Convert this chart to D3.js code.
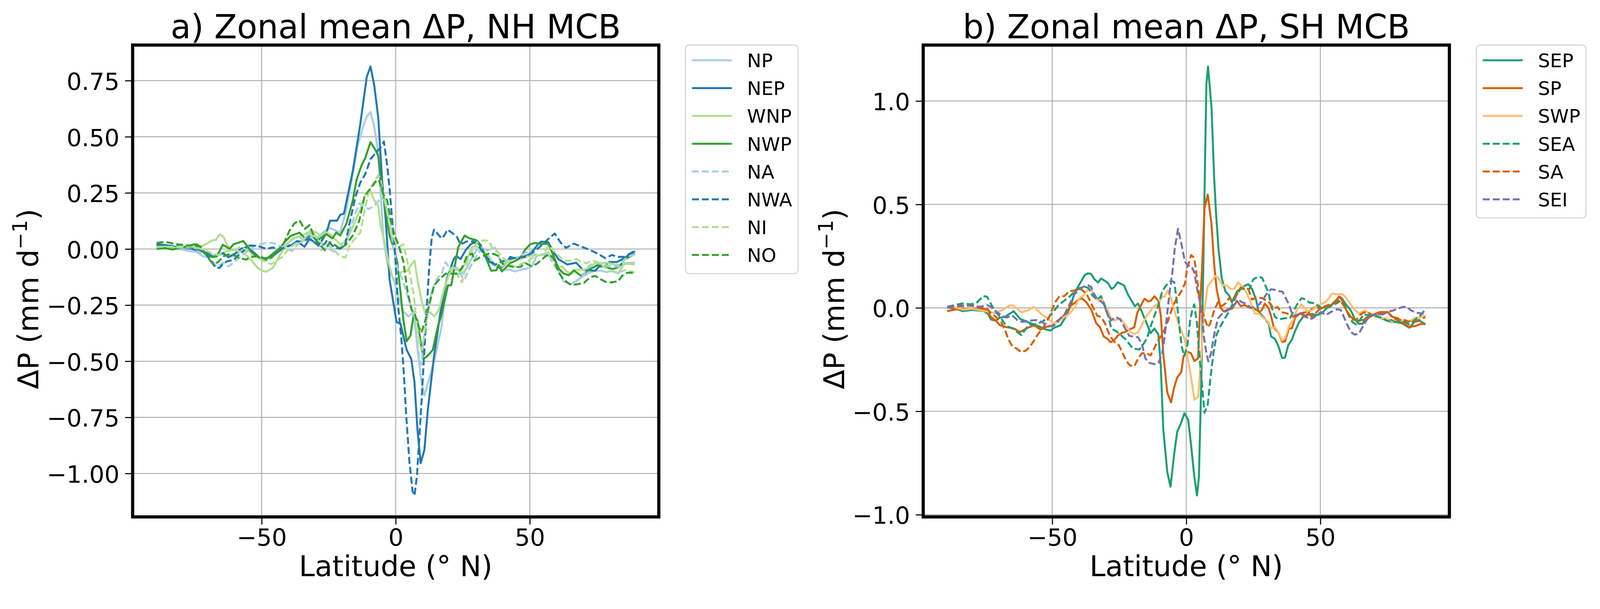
<!DOCTYPE html>
<html>
<head>
<meta charset="utf-8">
<script src="https://cdn.jsdelivr.net/npm/d3@7"></script>
<style>
  html, body { margin: 0; padding: 0; width: 100%; height: 100%; overflow: hidden; background: #ffffff; }
  #chart { display: block; width: 100vw; height: 100vh; }
  text { font-family: 'DejaVu Sans', sans-serif; fill: #000; }
</style>
</head>
<body>
<svg id="chart"></svg>
<script>
// ---- Data (latitude in degrees N, zonal mean dP in mm/day) ----
const latTicks = [-50, 0, 50];
const nhTicks = [-1.0, -0.75, -0.5, -0.25, 0, 0.25, 0.5, 0.75];
const shTicks = [-1.0, -0.5, 0, 0.5, 1.0];

const nhRegions = ['NP', 'NEP', 'WNP', 'NWP', 'NA', 'NWA', 'NI', 'NO'];
const shRegions = ['SEP', 'SP', 'SWP', 'SEA', 'SA', 'SEI'];

const NP = [[-89.2,0.010],[-86.1,0.008],[-81.3,0.001],[-76.6,-0.010],[-74.2,-0.013],[-71.9,-0.033],[-70.4,-0.036],[-68.5,-0.027],[-66.2,-0.022],[-64.3,-0.016],[-62.4,-0.038],[-60.0,-0.027],[-57.7,-0.010],[-55.3,-0.005],[-52.9,-0.021],[-50.6,-0.041],[-48.2,-0.047],[-45.8,-0.027],[-43.5,-0.005],[-41.1,0.018],[-38.7,0.041],[-36.3,0.058],[-34.0,0.035],[-31.6,0.075],[-29.2,0.049],[-26.9,0.075],[-24.5,0.093],[-20.7,0.073],[-18.4,0.178],[-16.0,0.335],[-14.1,0.466],[-12.0,0.551],[-10.8,0.590],[-9.4,0.610],[-8.0,0.545],[-6.5,0.427],[-5.6,0.243],[-4.6,0.047],[-3.2,-0.058],[-1.8,-0.110],[-0.4,-0.149],[1.0,-0.215],[2.9,-0.280],[4.8,-0.300],[6.7,-0.280],[8.4,-0.476],[9.6,-0.594],[10.7,-0.653],[12.4,-0.581],[14.3,-0.503],[17.1,-0.346],[19.0,-0.136],[20.9,-0.071],[22.8,-0.084],[24.7,-0.110],[26.6,-0.084],[29.0,-0.025],[30.4,-0.002],[32.3,-0.001],[34.2,-0.029],[36.1,-0.069],[38.0,-0.080],[40.3,-0.092],[42.2,-0.092],[44.6,-0.100],[46.5,-0.092],[48.4,-0.089],[50.8,-0.078],[52.6,-0.029],[54.5,-0.027],[56.9,-0.024],[58.8,-0.041],[60.7,-0.097],[62.6,-0.143],[65.0,-0.157],[67.3,-0.143],[69.7,-0.123],[72.1,-0.106],[74.4,-0.097],[76.8,-0.097],[78.7,-0.103],[80.6,-0.097],[83.0,-0.109],[85.3,-0.063],[87.7,-0.061],[89.2,-0.061]];

const NEP = [[-89.2,0.021],[-86.1,0.018],[-81.3,0.008],[-76.6,0.002],[-72.8,-0.010],[-70.4,-0.016],[-68.1,-0.036],[-66.2,-0.027],[-64.3,-0.019],[-62.4,-0.036],[-60.0,-0.021],[-57.7,0.001],[-55.3,0.010],[-52.9,-0.016],[-50.6,-0.041],[-48.2,-0.041],[-45.8,-0.030],[-43.5,-0.010],[-40.6,0.014],[-38.7,0.018],[-36.8,0.035],[-34.0,0.010],[-32.1,0.046],[-30.2,0.029],[-28.3,0.024],[-26.4,0.060],[-25.5,0.086],[-24.5,0.126],[-21.9,0.126],[-20.7,0.152],[-19.3,0.158],[-16.0,0.348],[-13.2,0.558],[-10.8,0.767],[-9.4,0.813],[-8.0,0.728],[-6.5,0.584],[-5.1,0.309],[-3.7,0.126],[-2.3,-0.136],[-0.85,-0.241],[0.33,-0.326],[1.75,-0.332],[4.1,-0.450],[5.8,-0.490],[7.0,-0.594],[8.1,-0.804],[9.3,-0.954],[10.7,-0.895],[11.9,-0.725],[14.3,-0.476],[16.7,-0.280],[19.0,-0.136],[21.6,-0.045],[22.6,-0.031],[24.2,-0.045],[26.1,-0.005],[28.0,0.021],[30.4,0.036],[31.8,0.016],[33.2,-0.024],[35.1,-0.058],[37.0,-0.069],[38.9,-0.086],[40.8,-0.069],[42.7,-0.035],[45.1,-0.044],[47.4,-0.035],[49.8,-0.024],[51.7,-0.001],[53.1,0.022],[54.3,0.033],[56.9,0.030],[58.8,-0.012],[60.7,-0.046],[64.0,-0.069],[67.3,-0.061],[69.7,-0.092],[72.1,-0.095],[74.4,-0.097],[75.8,-0.078],[77.7,-0.078],[79.6,-0.058],[82.5,-0.058],[84.8,-0.044],[86.7,-0.029],[89.2,-0.010]];

const WNP = [[-89.2,0.008],[-86.1,0.011],[-81.3,0.004],[-76.6,0.007],[-72.8,0.010],[-70.4,0.024],[-68.5,0.038],[-67.1,0.041],[-65.7,0.065],[-64.3,0.055],[-62.9,0.018],[-61.4,-0.005],[-59.6,-0.007],[-56.7,-0.016],[-53.9,-0.050],[-51.5,-0.084],[-49.6,-0.098],[-48.2,-0.101],[-45.8,-0.084],[-43.5,-0.033],[-41.1,0.012],[-38.7,0.046],[-36.3,0.055],[-34.0,0.066],[-31.6,0.083],[-29.2,0.072],[-27.8,0.052],[-25.9,0.075],[-24.0,0.062],[-20.7,0.021],[-18.4,0.034],[-16.0,0.100],[-13.6,0.165],[-11.3,0.243],[-9.4,0.257],[-8.0,0.217],[-6.5,0.191],[-5.6,0.100],[-4.2,0.034],[-2.7,-0.058],[-1.3,-0.123],[0.1,-0.143],[2.0,-0.103],[4.4,-0.097],[5.3,-0.077],[7.0,-0.051],[8.1,-0.136],[9.6,-0.228],[11.0,-0.287],[12.4,-0.280],[14.5,-0.300],[16.2,-0.267],[18.1,-0.175],[20.0,-0.110],[21.9,-0.084],[24.2,-0.103],[26.6,-0.045],[28.5,0.010],[30.4,0.010],[32.3,-0.012],[34.2,-0.024],[36.1,-0.058],[38.0,-0.080],[39.9,-0.075],[41.8,-0.058],[44.1,-0.041],[46.5,-0.046],[48.4,-0.035],[50.8,-0.029],[53.1,-0.029],[55.0,-0.024],[56.9,-0.015],[58.8,-0.046],[60.7,-0.080],[62.1,-0.078],[63.5,-0.097],[65.4,-0.114],[67.3,-0.092],[70.2,-0.092],[72.1,-0.083],[74.0,-0.066],[75.8,-0.063],[78.7,-0.061],[81.5,-0.069],[83.9,-0.072],[86.3,-0.066],[89.2,-0.069]];

const NWP = [[-89.2,0.000],[-86.1,0.004],[-83.2,-0.002],[-79.0,0.008],[-75.2,0.021],[-72.8,-0.002],[-70.9,-0.024],[-68.5,-0.036],[-66.7,-0.033],[-64.5,0.019],[-61.9,0.001],[-60.5,0.021],[-58.1,0.030],[-56.9,0.036],[-55.3,0.012],[-53.4,-0.021],[-50.6,-0.041],[-48.2,-0.044],[-45.8,-0.021],[-43.5,0.001],[-41.1,0.035],[-39.2,0.058],[-35.9,0.073],[-34.0,0.049],[-31.6,0.058],[-29.2,0.038],[-25.9,0.066],[-23.6,0.047],[-22.2,0.073],[-20.7,0.060],[-18.4,0.113],[-16.0,0.217],[-14.6,0.309],[-12.7,0.374],[-11.3,0.407],[-9.4,0.476],[-7.5,0.440],[-6.5,0.414],[-5.6,0.309],[-4.2,0.204],[-2.3,0.060],[-0.85,0.008],[0.6,-0.058],[1.5,-0.162],[2.9,-0.319],[4.1,-0.411],[5.5,-0.385],[6.7,-0.293],[8.1,-0.319],[9.1,-0.398],[10.3,-0.490],[11.9,-0.476],[13.8,-0.450],[15.7,-0.346],[17.1,-0.293],[19.5,-0.162],[20.7,-0.162],[21.9,-0.084],[23.3,0.008],[25.7,0.060],[27.6,0.047],[29.9,0.040],[32.3,-0.001],[33.7,-0.041],[35.6,-0.097],[37.5,-0.095],[38.4,-0.072],[39.6,-0.100],[41.3,-0.080],[42.7,-0.063],[45.1,-0.050],[46.5,-0.038],[48.4,-0.001],[50.3,0.022],[52.2,0.027],[54.1,0.022],[56.9,0.024],[58.8,-0.029],[60.7,-0.086],[62.6,-0.109],[64.5,-0.117],[66.4,-0.095],[69.2,-0.120],[72.1,-0.092],[74.0,-0.080],[75.8,-0.069],[78.7,-0.083],[81.1,-0.089],[83.4,-0.080],[85.3,-0.046],[87.2,-0.035],[89.2,-0.021]];

const NA = [[-89.2,0.015],[-81.3,0.007],[-75.2,0.007],[-72.8,-0.016],[-70.9,-0.027],[-68.5,-0.055],[-66.7,-0.078],[-64.3,-0.061],[-62.4,-0.078],[-60.5,-0.061],[-57.7,-0.033],[-55.3,-0.010],[-52.9,0.012],[-50.6,0.021],[-48.2,0.027],[-45.8,0.027],[-43.5,0.015],[-41.1,0.004],[-38.7,-0.010],[-36.3,0.024],[-34.0,0.046],[-32.1,0.072],[-30.2,0.029],[-27.8,-0.005],[-25.5,0.005],[-23.1,-0.012],[-20.7,0.008],[-18.4,0.047],[-16.0,0.126],[-13.6,0.204],[-11.7,0.191],[-10.3,0.178],[-8.9,0.185],[-7.0,0.204],[-5.6,0.230],[-4.2,0.217],[-2.3,0.126],[-0.85,0.008],[0.6,-0.084],[2.5,-0.136],[3.9,-0.189],[5.3,-0.241],[6.7,-0.280],[7.7,-0.372],[8.6,-0.476],[9.6,-0.516],[10.5,-0.398],[11.9,-0.293],[13.4,-0.189],[15.2,-0.136],[17.1,-0.110],[18.6,-0.058],[20.0,-0.084],[21.9,-0.084],[23.8,-0.110],[25.7,-0.136],[27.6,-0.084],[29.5,-0.045],[32.3,0.010],[34.2,-0.007],[37.0,0.007],[39.4,-0.063],[41.8,-0.052],[44.6,-0.041],[47.4,-0.024],[49.3,-0.012],[52.2,-0.024],[55.0,-0.024],[56.9,-0.024],[58.8,-0.069],[60.7,-0.097],[62.6,-0.137],[65.0,-0.157],[67.3,-0.143],[69.7,-0.120],[72.1,-0.075],[74.4,-0.058],[76.8,-0.069],[79.6,-0.075],[81.5,-0.075],[83.4,-0.080],[85.3,-0.046],[87.7,-0.029],[89.2,-0.024]];

const NWA = [[-89.2,0.018],[-76.6,0.010],[-72.8,-0.005],[-70.9,-0.021],[-68.1,-0.067],[-67.1,-0.084],[-65.7,-0.084],[-64.3,-0.064],[-62.4,-0.053],[-60.5,-0.050],[-58.6,-0.027],[-56.7,-0.007],[-54.8,0.015],[-52.9,0.015],[-50.6,0.010],[-48.2,0.001],[-45.8,0.007],[-43.5,-0.002],[-41.1,0.007],[-38.7,0.018],[-36.8,0.035],[-34.9,0.032],[-32.6,0.046],[-30.2,0.029],[-28.3,0.012],[-26.4,0.024],[-25.5,0.041],[-23.1,0.008],[-20.7,0.001],[-18.8,0.021],[-17.0,0.126],[-15.1,0.230],[-13.2,0.296],[-11.3,0.335],[-9.4,0.401],[-7.5,0.427],[-5.6,0.453],[-4.4,0.479],[-3.2,0.374],[-2.3,0.270],[-1.3,0.126],[-0.4,0.008],[0.3,-0.136],[1.0,-0.267],[2.0,-0.385],[2.9,-0.529],[3.9,-0.738],[5.1,-0.948],[6.3,-1.079],[7.0,-1.098],[7.9,-1.013],[8.6,-0.882],[9.6,-0.686],[10.5,-0.490],[11.5,-0.280],[12.4,-0.097],[13.4,0.047],[14.3,0.086],[15.7,0.067],[17.1,0.047],[18.1,0.060],[19.3,0.086],[20.9,0.073],[22.8,0.054],[24.2,0.021],[26.6,0.034],[29.0,0.034],[31.3,0.008],[33.2,-0.030],[37.0,-0.070],[40.8,-0.050],[44.1,-0.040],[48.4,-0.035],[52.2,-0.007],[55.0,0.024],[57.9,0.055],[59.3,0.069],[61.6,0.027],[63.5,0.005],[66.4,0.024],[68.7,0.013],[71.1,0.002],[73.5,-0.010],[75.8,-0.024],[78.2,-0.041],[80.6,-0.027],[83.0,-0.035],[85.3,-0.035],[87.7,-0.018],[89.2,-0.007]];

const NI = [[-89.2,0.010],[-81.3,0.010],[-76.6,0.012],[-72.8,0.001],[-70.9,-0.007],[-68.1,-0.021],[-66.2,-0.027],[-63.3,-0.010],[-60.5,-0.005],[-57.7,0.010],[-55.8,-0.002],[-52.9,-0.033],[-50.6,-0.044],[-48.2,-0.061],[-46.3,-0.067],[-44.4,-0.050],[-42.5,-0.038],[-40.6,-0.010],[-38.7,0.012],[-37.3,0.024],[-34.9,0.032],[-32.6,0.075],[-31.1,0.086],[-29.2,0.041],[-27.3,0.024],[-25.5,0.020],[-23.1,-0.005],[-20.7,-0.031],[-18.8,-0.038],[-17.0,0.021],[-15.1,0.047],[-13.2,0.073],[-11.7,0.165],[-10.3,0.243],[-8.9,0.283],[-7.5,0.309],[-6.5,0.329],[-5.6,0.309],[-4.6,0.243],[-3.2,0.165],[-1.8,0.073],[-0.4,0.041],[1.0,0.008],[2.9,0.021],[3.9,-0.031],[5.3,-0.110],[6.7,-0.202],[7.7,-0.319],[8.6,-0.398],[9.6,-0.450],[10.5,-0.398],[11.5,-0.293],[12.4,-0.241],[14.3,-0.162],[16.2,-0.136],[18.6,-0.110],[20.9,-0.084],[22.8,-0.110],[24.7,-0.149],[26.6,-0.058],[29.0,0.005],[30.4,0.030],[32.8,0.039],[34.7,0.036],[36.1,0.004],[38.0,-0.012],[39.9,-0.038],[41.8,-0.058],[44.1,-0.080],[46.5,-0.069],[48.4,-0.058],[50.8,-0.041],[53.1,-0.029],[55.0,-0.024],[56.9,0.016],[58.8,-0.007],[60.7,-0.029],[62.6,-0.052],[65.0,-0.052],[67.3,-0.044],[69.2,-0.058],[71.1,-0.063],[73.5,-0.052],[75.8,-0.061],[77.7,-0.080],[80.6,-0.100],[83.0,-0.105],[85.3,-0.095],[87.7,-0.100],[89.2,-0.105]];

const NO = [[-89.2,0.027],[-86.1,0.032],[-81.3,0.021],[-76.6,0.015],[-74.7,0.024],[-72.8,0.010],[-70.9,-0.021],[-69.0,-0.055],[-67.6,-0.067],[-66.2,-0.058],[-64.3,-0.033],[-62.4,-0.024],[-60.5,-0.027],[-58.1,-0.041],[-55.8,-0.047],[-53.9,-0.036],[-51.5,-0.030],[-49.6,-0.038],[-48.2,-0.050],[-46.3,-0.038],[-43.9,-0.010],[-41.6,0.029],[-39.7,0.080],[-37.8,0.114],[-35.9,0.128],[-34.0,0.089],[-32.1,0.106],[-30.2,0.046],[-28.3,0.018],[-26.4,-0.005],[-24.5,0.030],[-23.1,0.021],[-20.7,0.001],[-18.4,0.021],[-16.0,0.060],[-13.6,0.126],[-11.7,0.230],[-10.3,0.257],[-8.9,0.276],[-7.0,0.309],[-6.1,0.302],[-4.6,0.243],[-3.2,0.217],[-1.8,0.126],[-0.4,0.060],[1.0,0.021],[2.9,-0.058],[4.4,-0.189],[5.8,-0.267],[7.2,-0.293],[8.6,-0.346],[9.6,-0.372],[11.0,-0.319],[12.4,-0.254],[14.3,-0.162],[16.2,-0.136],[18.6,-0.110],[20.9,-0.110],[22.8,-0.110],[24.7,-0.084],[26.6,-0.031],[28.5,-0.020],[29.4,-0.052],[31.3,-0.038],[33.2,-0.029],[35.1,-0.018],[37.0,-0.024],[38.0,-0.029],[39.9,-0.066],[41.8,-0.075],[44.1,-0.080],[46.5,-0.080],[48.4,-0.063],[50.3,-0.075],[52.2,-0.069],[54.1,-0.052],[55.9,-0.032],[57.4,-0.024],[58.8,-0.041],[60.7,-0.103],[62.6,-0.137],[65.4,-0.160],[67.8,-0.157],[70.2,-0.151],[72.5,-0.126],[74.4,-0.120],[76.3,-0.134],[78.2,-0.146],[80.6,-0.149],[83.0,-0.143],[84.4,-0.120],[86.3,-0.106],[89.2,-0.106]];

const SEP = [[-89.2,0.002],[-86.1,-0.004],[-83.3,-0.016],[-80.0,-0.010],[-75.3,-0.016],[-73.8,-0.032],[-72.9,-0.056],[-71.0,-0.062],[-69.6,-0.047],[-67.7,-0.044],[-64.4,-0.016],[-62.0,-0.053],[-58.7,-0.071],[-55.9,-0.084],[-53.0,-0.102],[-50.7,-0.110],[-49.2,-0.096],[-46.9,-0.084],[-45.0,-0.044],[-43.1,0.011],[-41.7,0.072],[-39.8,0.115],[-37.9,0.158],[-36.7,0.167],[-35.5,0.164],[-34.1,0.136],[-32.9,0.123],[-31.8,0.142],[-30.3,0.130],[-29.2,0.120],[-27.9,0.092],[-27.0,0.099],[-25.6,0.124],[-23.2,0.108],[-21.8,0.066],[-20.4,0.034],[-19.2,0.008],[-18.0,0.021],[-16.6,-0.018],[-14.7,-0.077],[-13.3,-0.122],[-11.9,-0.100],[-10.4,-0.129],[-9.5,-0.285],[-8.6,-0.584],[-7.1,-0.793],[-5.9,-0.865],[-4.5,-0.704],[-3.4,-0.600],[-1.9,-0.555],[-0.7,-0.509],[0.7,-0.541],[1.8,-0.665],[3.0,-0.818],[4.0,-0.907],[4.7,-0.818],[5.6,-0.350],[6.3,0.171],[7.0,0.718],[7.5,1.083],[8.1,1.167],[9.4,0.971],[10.4,0.625],[11.1,0.456],[12.0,0.287],[13.2,0.145],[14.6,0.079],[16.0,0.060],[17.0,0.027],[18.9,0.079],[20.8,0.099],[23.1,0.115],[24.5,0.092],[26.0,0.040],[26.9,-0.014],[28.3,-0.038],[29.7,-0.059],[30.7,-0.074],[31.6,-0.138],[33.1,-0.150],[34.5,-0.190],[35.7,-0.242],[36.8,-0.241],[38.0,-0.181],[39.4,-0.153],[40.6,-0.111],[42.0,-0.071],[43.5,-0.044],[44.9,-0.035],[46.8,-0.029],[48.7,-0.035],[50.5,-0.026],[52.4,-0.001],[54.3,0.017],[56.2,0.041],[57.2,0.054],[58.1,0.045],[59.5,0.017],[61.4,-0.013],[62.8,-0.053],[64.3,-0.077],[65.7,-0.077],[67.1,-0.047],[69.5,-0.035],[71.8,-0.047],[74.7,-0.059],[76.5,-0.059],[78.0,-0.068],[80.3,-0.074],[83.2,-0.096],[85.1,-0.068],[87.0,-0.062],[89.2,-0.080]];

const SP = [[-89.2,-0.016],[-85.7,-0.007],[-82.3,-0.007],[-78.6,-0.004],[-75.3,-0.007],[-74.3,-0.010],[-72.9,-0.044],[-71.0,-0.062],[-69.6,-0.083],[-67.2,-0.093],[-64.4,-0.099],[-62.0,-0.117],[-59.6,-0.099],[-56.8,-0.084],[-54.4,-0.105],[-52.6,-0.093],[-50.2,-0.087],[-48.3,-0.065],[-46.4,-0.047],[-44.5,-0.019],[-43.1,0.011],[-41.7,0.023],[-40.3,0.038],[-39.1,0.047],[-37.4,0.029],[-35.5,-0.007],[-33.6,-0.074],[-32.2,-0.093],[-30.8,-0.138],[-29.4,-0.150],[-28.2,-0.166],[-27.0,-0.158],[-25.6,-0.135],[-24.2,-0.122],[-22.7,-0.116],[-21.3,-0.105],[-19.4,-0.094],[-18.3,-0.025],[-17.1,0.008],[-15.6,0.044],[-14.2,0.031],[-13.3,0.034],[-11.9,0.056],[-10.4,0.034],[-9.5,-0.038],[-8.6,-0.220],[-7.1,-0.409],[-5.7,-0.457],[-4.5,-0.383],[-3.4,-0.337],[-1.9,-0.311],[-1.0,-0.233],[0.0,-0.210],[1.8,-0.220],[3.0,-0.257],[4.4,-0.244],[5.2,0.027],[5.9,0.197],[6.8,0.483],[8.0,0.548],[9.4,0.405],[10.4,0.210],[11.3,0.092],[12.7,0.001],[14.1,-0.018],[15.6,-0.005],[17.0,-0.005],[18.9,0.034],[20.3,0.008],[21.7,0.014],[23.6,0.001],[25.5,-0.005],[27.4,-0.020],[28.3,-0.007],[29.3,0.020],[30.7,-0.001],[31.6,-0.038],[32.6,-0.093],[33.5,-0.108],[34.5,-0.123],[35.7,-0.163],[36.8,-0.163],[38.3,-0.099],[39.4,-0.099],[40.6,-0.047],[42.5,-0.026],[44.4,-0.044],[46.3,-0.011],[48.2,0.005],[50.1,-0.004],[52.0,0.005],[54.3,0.014],[55.7,0.032],[57.0,0.055],[58.1,0.038],[59.5,-0.007],[61.4,-0.044],[62.8,-0.059],[64.3,-0.062],[66.6,-0.056],[68.5,-0.044],[70.4,-0.029],[72.3,-0.020],[75.1,-0.020],[77.0,-0.044],[78.9,-0.050],[80.8,-0.074],[83.2,-0.093],[85.5,-0.087],[87.4,-0.078],[89.2,-0.078]];

const SWP = [[-89.2,0.005],[-87.1,0.006],[-83.3,-0.009],[-80.0,-0.004],[-76.2,-0.013],[-72.9,-0.020],[-71.0,-0.026],[-68.2,-0.007],[-65.8,0.012],[-64.4,0.011],[-61.5,-0.022],[-58.7,-0.010],[-56.8,0.005],[-54.4,-0.026],[-51.6,-0.053],[-49.7,-0.074],[-47.8,-0.068],[-45.9,-0.047],[-43.6,-0.029],[-41.7,0.002],[-39.8,0.047],[-37.9,0.066],[-36.0,0.102],[-34.6,0.066],[-32.7,0.032],[-31.3,0.041],[-29.9,0.005],[-28.2,-0.045],[-27.0,-0.061],[-24.6,-0.051],[-22.3,-0.090],[-20.9,-0.116],[-19.4,-0.126],[-18.0,-0.118],[-16.6,-0.083],[-14.7,-0.038],[-12.8,-0.005],[-11.9,0.008],[-10.4,0.021],[-9.0,0.056],[-8.1,0.053],[-6.9,0.085],[-5.7,0.047],[-4.3,-0.018],[-2.9,-0.077],[-1.5,-0.122],[-0.5,-0.155],[0.4,-0.233],[1.8,-0.337],[3.0,-0.444],[4.4,-0.431],[5.4,-0.259],[6.6,-0.025],[8.0,0.105],[9.4,0.128],[10.8,0.154],[12.0,0.144],[13.4,0.111],[15.1,0.108],[16.5,0.092],[17.9,0.092],[19.3,0.124],[20.8,0.105],[22.2,0.079],[23.6,0.040],[25.5,-0.027],[27.1,-0.029],[28.8,-0.050],[30.5,-0.065],[31.6,-0.099],[33.1,-0.093],[34.5,-0.123],[35.7,-0.156],[36.8,-0.147],[38.3,-0.087],[39.7,-0.062],[41.1,-0.013],[43.0,0.017],[44.9,-0.013],[46.8,-0.013],[48.7,0.008],[50.5,0.020],[52.0,0.029],[53.2,0.047],[54.3,0.069],[55.8,0.066],[58.1,0.067],[59.5,0.050],[61.0,0.023],[62.4,-0.004],[64.3,-0.026],[66.6,-0.012],[68.5,-0.029],[70.4,-0.041],[72.8,-0.050],[74.7,-0.050],[76.6,-0.071],[79.0,-0.062],[80.8,-0.059],[82.7,-0.071],[85.1,-0.050],[87.4,-0.044],[89.2,-0.037]];

const SEA = [[-89.2,0.005],[-86.1,0.014],[-83.3,0.022],[-80.4,0.017],[-78.1,0.026],[-75.7,0.057],[-74.3,0.054],[-72.4,0.008],[-71.0,-0.020],[-69.1,-0.050],[-67.2,-0.087],[-64.8,-0.099],[-61.5,-0.132],[-58.7,-0.080],[-55.9,-0.078],[-54.0,-0.068],[-51.6,-0.050],[-49.7,-0.020],[-47.8,0.011],[-45.5,0.035],[-43.6,0.054],[-41.7,0.078],[-39.8,0.096],[-37.9,0.102],[-36.5,0.096],[-35.1,0.062],[-33.2,0.038],[-31.8,0.057],[-30.3,0.005],[-29.0,-0.044],[-28.0,-0.100],[-26.1,-0.113],[-24.6,-0.129],[-22.7,-0.152],[-21.3,-0.174],[-19.9,-0.197],[-17.5,-0.201],[-16.6,-0.187],[-14.7,-0.148],[-13.3,-0.090],[-11.9,-0.038],[-10.4,0.014],[-9.0,0.079],[-7.6,0.108],[-5.7,0.131],[-4.5,0.125],[-3.6,0.040],[-2.6,-0.090],[-1.7,-0.188],[-0.7,-0.233],[0.4,-0.181],[1.4,-0.064],[2.3,-0.005],[3.0,0.017],[4.0,-0.077],[4.9,-0.233],[5.9,-0.376],[6.8,-0.507],[8.0,-0.468],[8.9,-0.350],[10.1,-0.221],[11.3,-0.129],[12.7,-0.090],[14.1,-0.057],[15.6,-0.025],[17.4,0.021],[18.9,0.066],[20.3,0.092],[22.2,0.092],[23.6,0.092],[25.0,0.138],[26.9,0.151],[28.3,0.145],[29.7,0.102],[30.7,0.072],[31.6,0.011],[33.1,-0.044],[34.5,-0.056],[36.8,-0.050],[38.7,-0.050],[40.1,-0.013],[41.6,0.023],[43.0,0.047],[44.4,0.041],[45.8,0.026],[47.7,0.023],[49.1,0.011],[50.5,-0.001],[52.4,-0.001],[54.3,0.011],[56.2,0.023],[57.6,0.035],[59.1,0.011],[60.5,-0.035],[61.9,-0.068],[63.3,-0.080],[64.7,-0.059],[66.1,-0.032],[68.0,-0.035],[70.4,-0.038],[72.8,-0.047],[74.7,-0.062],[77.0,-0.068],[78.9,-0.068],[80.8,-0.065],[83.2,-0.080],[85.1,-0.059],[87.4,-0.035],[89.2,-0.007]];

const SA = [[-89.2,0.002],[-86.1,0.008],[-82.3,0.008],[-79.5,0.014],[-76.2,-0.001],[-74.3,-0.004],[-72.9,-0.026],[-71.0,-0.044],[-69.1,-0.068],[-67.7,-0.105],[-66.3,-0.154],[-64.8,-0.187],[-63.4,-0.196],[-61.5,-0.214],[-59.6,-0.205],[-57.8,-0.178],[-55.4,-0.129],[-53.0,-0.087],[-51.1,-0.044],[-50.2,-0.013],[-48.8,0.029],[-47.4,0.054],[-45.5,0.057],[-43.6,0.081],[-41.7,0.084],[-39.8,0.096],[-38.4,0.081],[-37.0,0.063],[-35.1,0.011],[-33.2,-0.038],[-31.8,-0.044],[-30.3,-0.075],[-29.0,-0.120],[-28.0,-0.145],[-26.5,-0.168],[-25.1,-0.181],[-23.7,-0.220],[-22.3,-0.259],[-20.9,-0.279],[-19.4,-0.283],[-18.0,-0.246],[-16.6,-0.220],[-15.2,-0.217],[-13.3,-0.230],[-11.9,-0.194],[-10.4,-0.155],[-9.0,-0.129],[-7.6,-0.090],[-6.7,-0.057],[-5.2,0.001],[-3.8,0.040],[-1.9,0.079],[-0.5,0.118],[0.4,0.197],[1.8,0.255],[3.0,0.242],[4.2,0.118],[5.2,0.014],[6.1,-0.025],[7.0,-0.057],[8.0,-0.094],[8.9,-0.077],[10.4,-0.012],[11.8,0.027],[13.2,0.008],[14.6,0.021],[16.0,0.047],[17.4,0.034],[18.9,0.066],[20.3,0.099],[21.7,0.092],[23.1,0.092],[24.5,0.040],[26.0,0.050],[27.9,0.048],[29.7,0.038],[31.2,0.023],[32.6,-0.004],[34.0,0.005],[35.4,-0.020],[37.3,-0.026],[38.7,-0.032],[40.1,-0.044],[41.6,-0.032],[43.5,-0.023],[45.3,-0.020],[46.8,-0.044],[48.2,-0.026],[50.1,-0.001],[52.4,0.011],[54.8,0.023],[56.7,0.035],[58.1,0.023],[59.1,0.005],[60.5,-0.032],[61.9,-0.056],[63.3,-0.059],[64.7,-0.035],[66.1,-0.023],[67.6,-0.020],[69.0,-0.032],[70.9,-0.035],[72.8,-0.026],[75.1,-0.020],[77.0,-0.050],[78.9,-0.059],[80.8,-0.056],[82.7,-0.065],[85.1,-0.065],[87.4,-0.056],[89.2,-0.044]];

const SEI = [[-89.2,0.005],[-86.1,0.011],[-83.3,0.011],[-80.4,0.010],[-77.6,0.006],[-76.2,0.007],[-74.3,0.014],[-72.9,0.005],[-71.0,-0.016],[-69.1,-0.035],[-67.2,-0.047],[-64.8,-0.038],[-63.0,-0.059],[-61.1,-0.068],[-58.7,-0.062],[-55.9,-0.059],[-54.0,-0.068],[-52.1,-0.081],[-50.2,-0.090],[-48.8,-0.081],[-47.4,-0.056],[-45.5,-0.035],[-44.5,-0.007],[-43.1,0.029],[-41.7,0.066],[-40.3,0.084],[-38.4,0.102],[-36.7,0.110],[-35.5,0.102],[-34.6,0.072],[-33.6,0.050],[-32.2,0.035],[-30.8,0.019],[-29.4,-0.030],[-28.0,-0.060],[-26.1,-0.044],[-24.6,-0.057],[-23.2,-0.090],[-21.3,-0.135],[-19.4,-0.139],[-18.0,-0.142],[-16.6,-0.174],[-15.2,-0.246],[-13.8,-0.266],[-11.9,-0.272],[-10.4,-0.268],[-9.0,-0.220],[-8.1,-0.142],[-7.1,-0.025],[-6.2,0.079],[-5.2,0.171],[-4.3,0.288],[-3.1,0.382],[-1.9,0.314],[-0.5,0.223],[0.7,0.204],[1.8,0.204],[3.0,0.171],[4.2,0.079],[5.6,0.001],[6.6,-0.142],[7.5,-0.220],[8.2,-0.259],[9.2,-0.220],[10.4,-0.129],[11.8,-0.051],[13.2,-0.031],[14.6,-0.018],[16.5,-0.005],[17.9,0.014],[19.3,0.040],[20.8,0.027],[22.2,0.021],[24.1,0.001],[26.0,0.005],[27.4,0.020],[28.8,0.045],[30.2,0.072],[31.6,0.090],[33.1,0.087],[34.5,0.081],[35.9,0.078],[37.3,0.041],[38.3,0.017],[39.2,-0.020],[40.2,-0.038],[41.6,-0.032],[43.0,-0.026],[44.4,-0.038],[45.8,-0.056],[47.2,-0.050],[49.1,-0.029],[50.5,-0.020],[52.0,-0.035],[53.9,-0.020],[56.2,-0.007],[57.6,-0.010],[58.6,-0.038],[60.0,-0.081],[61.4,-0.117],[62.8,-0.129],[64.3,-0.126],[65.7,-0.093],[67.1,-0.062],[68.5,-0.038],[70.9,-0.032],[73.2,-0.032],[75.1,-0.020],[77.0,-0.013],[78.9,-0.004],[80.8,0.005],[82.2,0.005],[83.6,-0.010],[85.5,-0.023],[87.4,-0.026],[89.2,-0.029]];

// ---- Styles ----
const lineColor = {
  NP: '#a6cee3', NEP: '#1f78b4', WNP: '#b2df8a', NWP: '#33a02c',
  NA: '#a6cee3', NWA: '#1f78b4', NI: '#b2df8a', NO: '#33a02c',
  SEP: '#1b9e77', SP: '#d95f02', SWP: '#fdbf6f',
  SEA: '#1b9e77', SA: '#d95f02', SEI: '#7570b3',
};
const dashed = new Set(['NA', 'NWA', 'NI', 'NO', 'SEA', 'SA', 'SEI']);

const W = 4204, H = 1558;
const axTop = 118.3, axBottom = 1357.3;
const lineWidth = 5.2;
const dashPattern = '18.3,7.9';

const panels = [
  {
    id: 'a', title: 'a) Zonal mean ΔP, NH MCB',
    regions: nhRegions, series: { NP, NEP, WNP, NWP, NA, NWA, NI, NO },
    yTicks: nhTicks, yFormat: d3.format('.2f'),
    left: 348.5, right: 1731, legendX: 1801, legendW: 296, ylabelX: 101,
  },
  {
    id: 'b', title: 'b) Zonal mean ΔP, SH MCB',
    regions: shRegions, series: { SEP, SP, SWP, SEA, SA, SEI },
    yTicks: shTicks, yFormat: d3.format('.1f'),
    left: 2425.75, right: 3808.25, legendX: 3879, legendW: 288, ylabelX: 2218,
  },
];

// matplotlib-style 5% autoscale margin
function padded([lo, hi]) {
  const m = (hi - lo) * 0.05;
  return [lo - m, hi + m];
}

// viewBox keeps the whole figure in view, anchored to the top of the page
const svg = d3.select('#chart')
  .attr('viewBox', `0 0 ${W} ${H}`)
  .attr('preserveAspectRatio', 'xMidYMin meet');

svg.append('rect').attr('width', W).attr('height', H).attr('fill', '#ffffff');

panels.forEach(p => {
  const all = p.regions.flatMap(r => p.series[r]);
  const x = d3.scaleLinear().domain(padded(d3.extent(all, d => d[0]))).range([p.left, p.right]);
  const y = d3.scaleLinear().domain(padded(d3.extent(all, d => d[1]))).range([axBottom, axTop]);

  const g = svg.append('g').attr('class', `panel-${p.id}`);

  g.append('clipPath')
    .attr('id', `clip-${p.id}`)
    .append('rect')
    .attr('x', p.left)
    .attr('y', axTop)
    .attr('width', p.right - p.left)
    .attr('height', axBottom - axTop);

  // Grid
  g.append('g')
    .selectAll('line')
    .data(latTicks)
    .join('line')
    .attr('x1', d => x(d)).attr('x2', d => x(d))
    .attr('y1', axTop).attr('y2', axBottom)
    .attr('stroke', '#b0b0b0')
    .attr('stroke-width', 2.6);

  g.append('g')
    .selectAll('line')
    .data(p.yTicks)
    .join('line')
    .attr('x1', p.left).attr('x2', p.right)
    .attr('y1', d => y(d)).attr('y2', d => y(d))
    .attr('stroke', '#b0b0b0')
    .attr('stroke-width', 2.6);

  // Series
  const line = d3.line().x(d => x(d[0])).y(d => y(d[1]));

  g.append('g')
    .attr('clip-path', `url(#clip-${p.id})`)
    .selectAll('path')
    .data(p.regions)
    .join('path')
    .attr('d', r => line(p.series[r]))
    .attr('fill', 'none')
    .attr('stroke', r => lineColor[r])
    .attr('stroke-width', lineWidth)
    .attr('stroke-linejoin', 'round')
    .attr('stroke-dasharray', r => (dashed.has(r) ? dashPattern : null));

  // Axes
  const xAxis = g.append('g')
    .attr('transform', `translate(0,${axBottom})`)
    .call(d3.axisBottom(x).tickValues(latTicks).tickFormat(d3.format('d')).tickSize(20).tickPadding(11.6));

  const yAxis = g.append('g')
    .attr('transform', `translate(${p.left},0)`)
    .call(d3.axisLeft(y).tickValues(p.yTicks).tickFormat(p.yFormat).tickSize(20).tickPadding(14.5));

  [xAxis, yAxis].forEach(ax => {
    ax.select('.domain').remove();
    ax.selectAll('.tick line').attr('stroke', '#000').attr('stroke-width', 2.8);
    ax.selectAll('.tick text')
      .attr('fill', '#000')
      .style('font-family', "'DejaVu Sans', sans-serif")
      .style('font-size', '62.5px');
  });
  yAxis.selectAll('.tick text').attr('dy', '0.38em');

  // Frame
  g.append('rect')
    .attr('x', p.left)
    .attr('y', axTop)
    .attr('width', p.right - p.left)
    .attr('height', axBottom - axTop)
    .attr('fill', 'none')
    .attr('stroke', '#000')
    .attr('stroke-width', 8.3);

  const cx = (p.left + p.right) / 2;

  // Title
  g.append('text')
    .attr('x', cx)
    .attr('y', 100.7)
    .attr('text-anchor', 'middle')
    .style('font-size', '87px')
    .text(p.title);

  // Axis labels
  g.append('text')
    .attr('x', cx)
    .attr('y', 1513.3)
    .attr('text-anchor', 'middle')
    .style('font-size', '75px')
    .text('Latitude (° N)');

  const yl = g.append('text')
    .attr('transform', `translate(${p.ylabelX},785) rotate(-90)`)
    .attr('text-anchor', 'middle')
    .style('font-size', '75px');
  yl.append('tspan').text('ΔP (mm d');
  yl.append('tspan').attr('dy', -30).style('font-size', '52.5px').text('−1');
  yl.append('tspan').attr('dy', 30).text(')');

  // Legend
  const rowH = 73, row0 = 158.4;
  const legend = g.append('g').attr('class', 'legend');
  legend.append('rect')
    .attr('x', p.legendX)
    .attr('y', axTop)
    .attr('width', p.legendW)
    .attr('height', p.regions.length * rowH + 16)
    .attr('rx', 10)
    .attr('fill', '#ffffff')
    .attr('fill-opacity', 0.8)
    .attr('stroke', '#d0d0d0')
    .attr('stroke-width', 2.5);

  const item = legend.selectAll('g.item')
    .data(p.regions)
    .join('g')
    .attr('class', 'item')
    .attr('transform', (r, i) => `translate(${p.legendX},${row0 + i * rowH})`);

  item.append('line')
    .attr('x1', 17).attr('x2', 122)
    .attr('y1', 0).attr('y2', 0)
    .attr('stroke', r => lineColor[r])
    .attr('stroke-width', lineWidth)
    .attr('stroke-dasharray', r => (dashed.has(r) ? dashPattern : null));

  item.append('text')
    .attr('x', 162)
    .attr('y', 18.3)
    .style('font-size', '50px')
    .text(r => r);
});
</script>
</body>
</html>
